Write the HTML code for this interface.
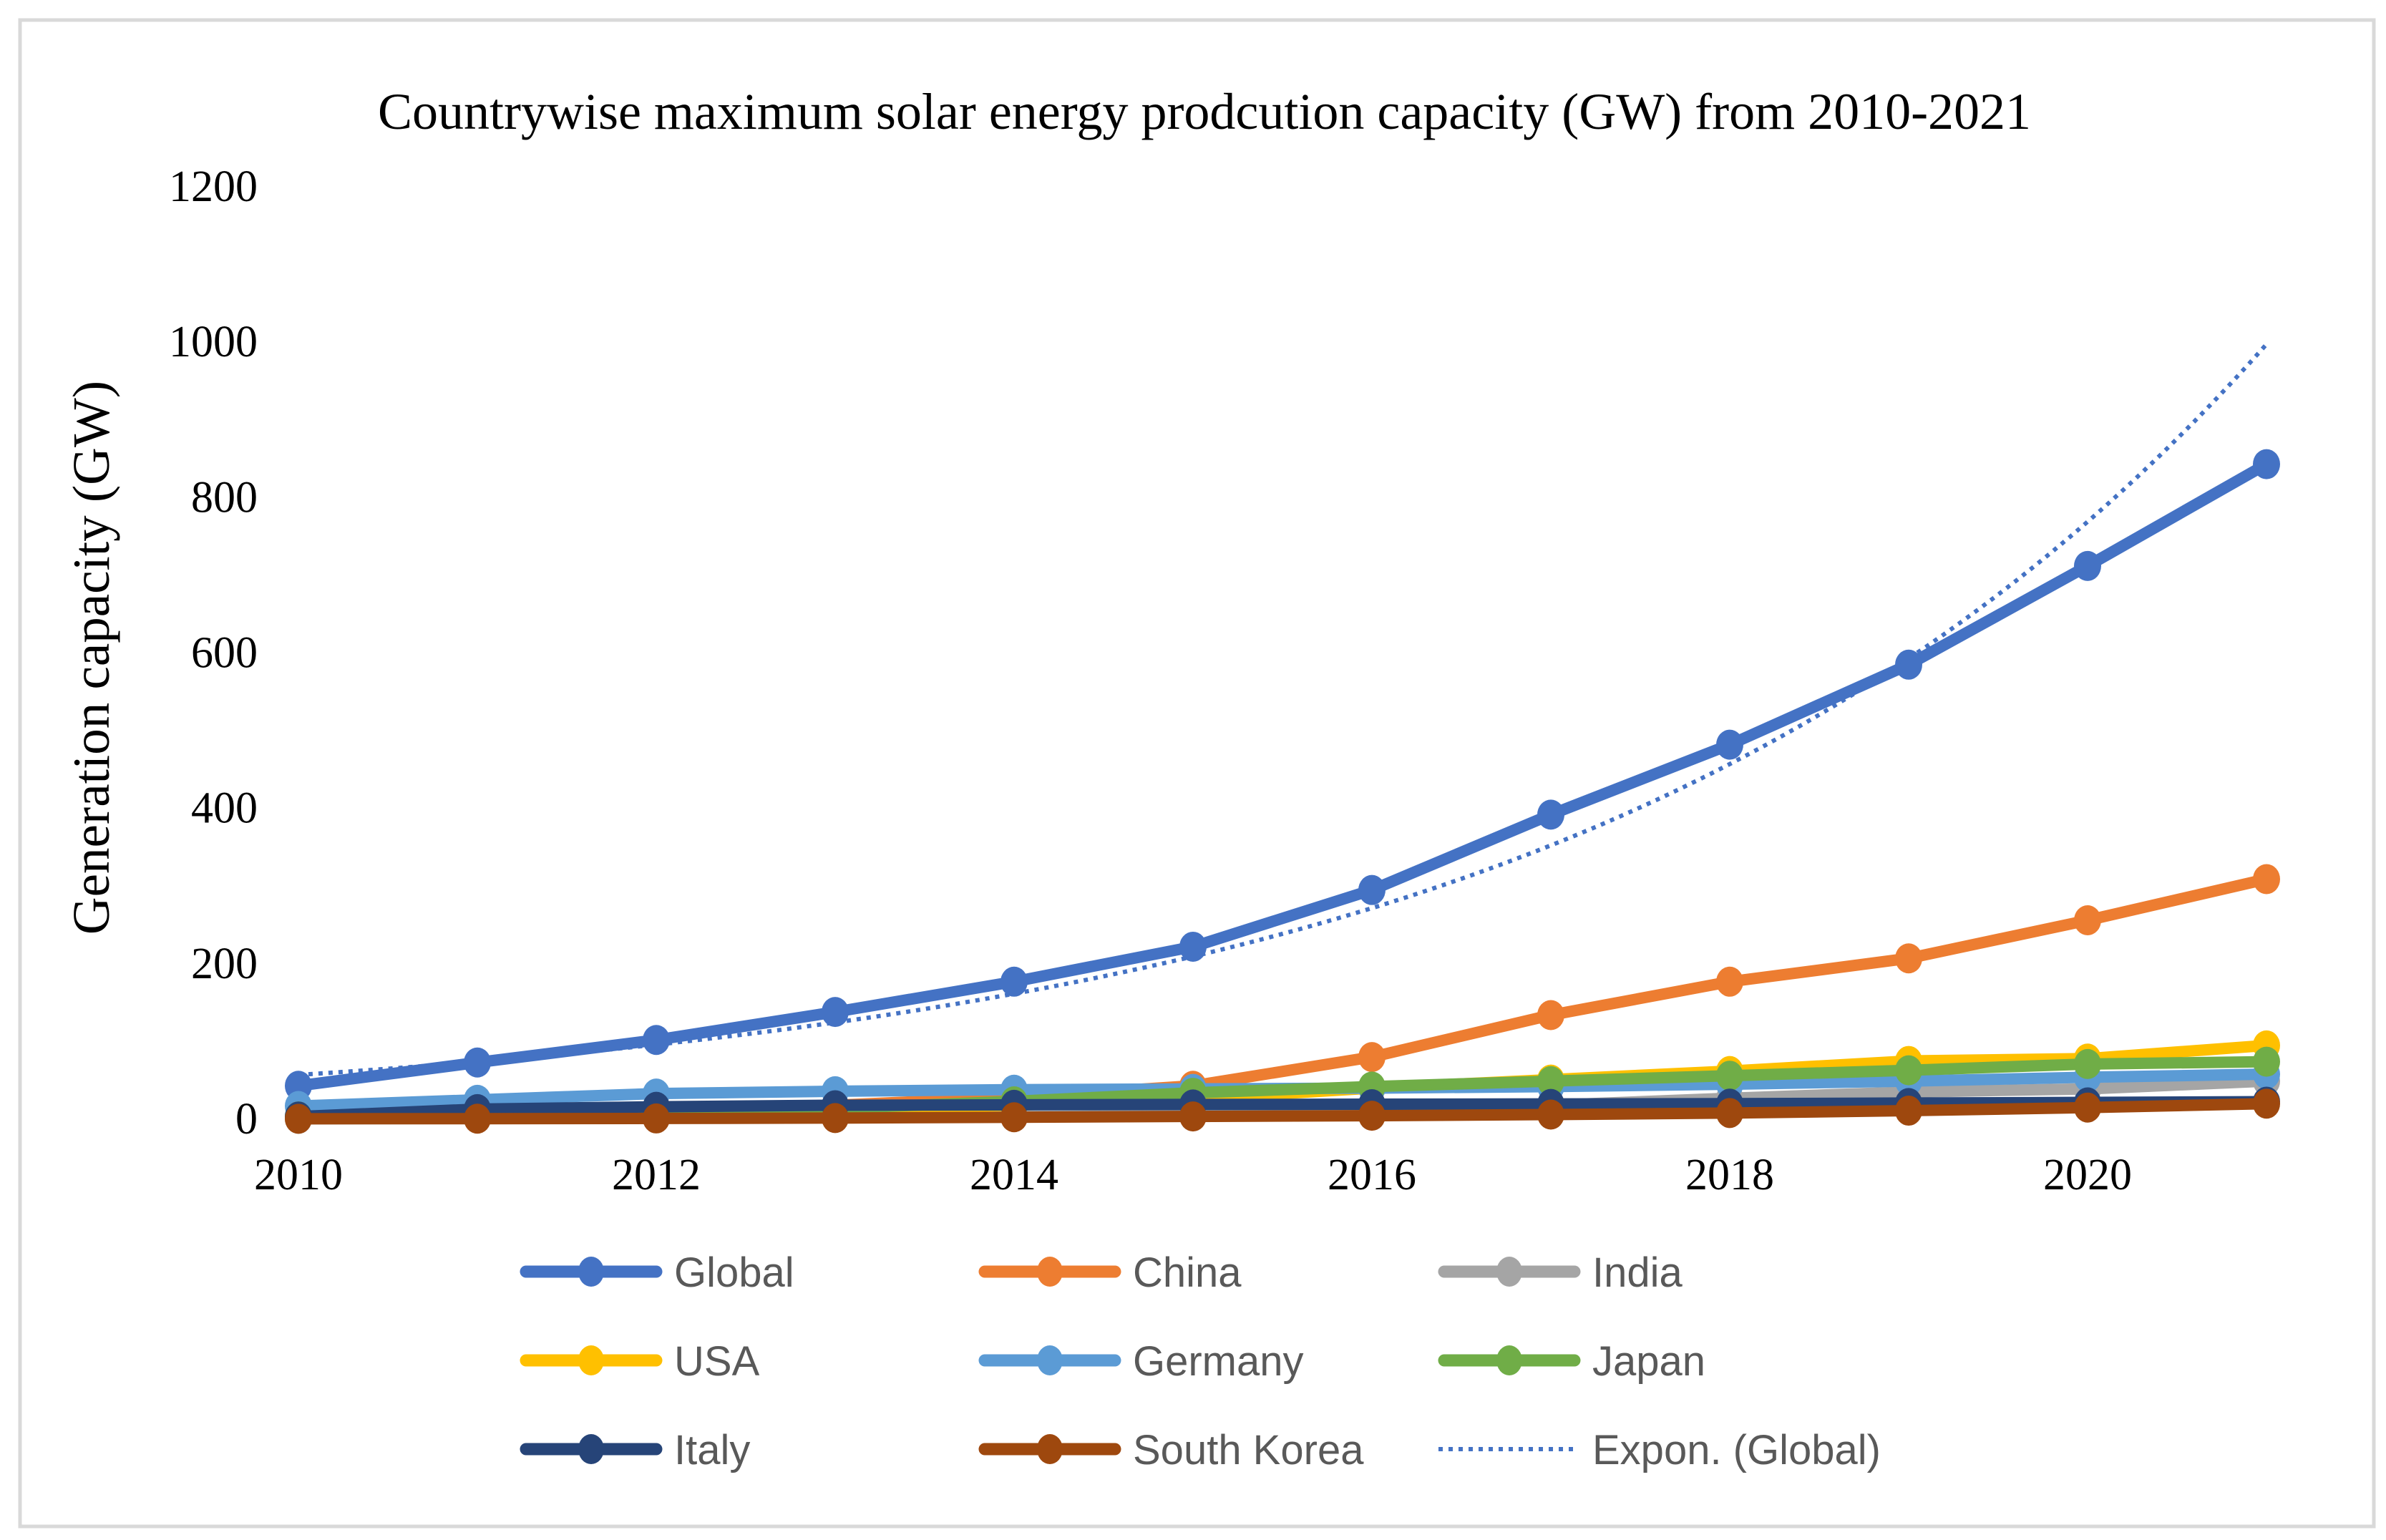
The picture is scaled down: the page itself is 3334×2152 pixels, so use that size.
<!DOCTYPE html>
<html><head><meta charset="utf-8">
<style>
html,body{margin:0;padding:0;background:#fff;}
svg{display:block;}
.serif{font-family:"Liberation Serif",serif;fill:#000;}
.leg{font-family:"Liberation Sans",sans-serif;fill:#595959;font-size:58px;}
</style></head>
<body>
<svg id="chart" width="3334" height="2152" viewBox="0 0 3334 2152" xmlns="http://www.w3.org/2000/svg">
<rect x="0" y="0" width="3334" height="2152" fill="#fff"/>
<rect x="28" y="28" width="3289" height="2105" fill="none" stroke="#d9d9d9" stroke-width="5"/>
<text class="serif" x="1683" y="180" font-size="72" text-anchor="middle">Countrywise maximum solar energy  prodcution capacity  (GW)  from 2010-2021</text>
<text class="serif" transform="translate(152,919) rotate(-90)" font-size="73" text-anchor="middle">Generation capacity (GW)</text>
<g id="yticks"></g>
<g id="xticks"></g>
<g id="series"></g>
<g id="legend"></g>
</svg>
<script>
const years = [2010,2011,2012,2013,2014,2015,2016,2017,2018,2019,2020,2021];
const yTickValues = [0,200,400,600,800,1000,1200];
const xTickYears = [2010,2012,2014,2016,2018,2020];
const globalVals = [43,73,102,138,177,222,295,392,482,585,712,843];
const chinaVals = [1,3,7,18,28,43,80,134,177,207,256,309];
const indiaVals = [0.5,1,1.5,2.5,3.5,5,9,18,27,35,39,49];
const usaVals = [2.5,4,7,12,18,26,40,51,62,75,78,95];
const germanyVals = [17,25,33,36,38,39,40,42,45,49,54,58];
const japanVals = [3.6,5,7,14,23,34,42,49,56,63,71,74];
const italyVals = [3.5,13,16,18,18.5,19,19.3,19.7,20,20.8,21.6,22.6];
const koreaVals = [0.6,0.7,1,1.5,2.5,3.6,4.5,6,8,11,15,20];
const seriesNames = ["Global","China","India","USA","Germany","Japan","Italy","South Korea"];

const NS = "http://www.w3.org/2000/svg";
const X0 = 417, XSTEP = 250, Y0 = 1564, YPX = (1564 - 261) / 1200;
function xScale(yr){ return X0 + (yr - 2010) * XSTEP; }
function yScale(v){ return Y0 - v * YPX; }
function mk(tag, attrs, parent){ const e = document.createElementNS(NS, tag); for (const k in attrs) e.setAttribute(k, attrs[k]); parent.appendChild(e); return e; }

const yt = document.getElementById('yticks');
yTickValues.forEach(v => {
  const t = mk('text', {x: 360, y: yScale(v) + 20, 'font-size': 62, 'text-anchor': 'end', class: 'serif'}, yt);
  t.textContent = v;
  
  
});
const xt = document.getElementById('xticks');
xTickYears.forEach(y => {
  const t = mk('text', {x: xScale(y), y: 1662, 'font-size': 62, 'text-anchor': 'middle', class: 'serif'}, xt);
  t.textContent = y;
  
  
});

const colors = ["#4472C4","#ED7D31","#A5A5A5","#FFC000","#5B9BD5","#70AD47","#264478","#9E480E"];
const allVals = [globalVals,chinaVals,indiaVals,usaVals,germanyVals,japanVals,italyVals,koreaVals];
const sg = document.getElementById('series');
allVals.forEach((vals, i) => {
  const g = mk('g', {}, sg);
  
  
  const pts = vals.map((v, j) => xScale(years[j]) + ',' + yScale(v)).join(' ');
  const pl = mk('polyline', {points: pts, fill: 'none', stroke: colors[i], 'stroke-width': 16, 'stroke-linejoin': 'round', 'stroke-linecap': 'round'}, g);
  
  
  vals.forEach((v, j) => {
    const c = mk('ellipse', {cx: xScale(years[j]), cy: yScale(v), rx: 19, ry: 21, fill: colors[i]}, g);
    
    
  });
});

// exponential trendline fit of Global
const n = years.length;
let sx = 0, sy = 0, sxx = 0, sxy = 0;
years.forEach((yr, j) => { const x = yr - 2010, l = Math.log(globalVals[j]); sx += x; sy += l; sxx += x * x; sxy += x * l; });
const b = (n * sxy - sx * sy) / (n * sxx - sx * sx);
const a = (sy - b * sx) / n;
const tp = [];
for (let k = 0; k <= 110; k++) { const x = k / 10; tp.push(xScale(2010 + x) + ',' + yScale(Math.exp(a + b * x))); }
const tr = mk('polyline', {points: tp.join(' '), fill: 'none', stroke: '#4472C4', 'stroke-width': 6, 'stroke-dasharray': '6 8'}, sg);



// legend
const lg = document.getElementById('legend');
const legNames = seriesNames.concat(["Expon. (Global)"]);
const colX = [727, 1368, 2010];
const rowY = [1777, 1901, 2025];
legNames.forEach((name, i) => {
  const cx = colX[i % 3], cy = rowY[Math.floor(i / 3)];
  const g = mk('g', {}, lg);
  
  
  if (i < 8) {
    mk('line', {x1: cx + 8, y1: cy, x2: cx + 190, y2: cy, stroke: colors[i], 'stroke-width': 17, 'stroke-linecap': 'round'}, g);
    mk('ellipse', {cx: cx + 99, cy: cy, rx: 18, ry: 21, fill: colors[i]}, g);
  } else {
    mk('line', {x1: cx, y1: cy, x2: cx + 190, y2: cy, stroke: '#4472C4', 'stroke-width': 6, 'stroke-dasharray': '6 8'}, g);
  }
  const t = mk('text', {x: cx + 215, y: cy + 21, class: 'leg'}, g);
  t.textContent = name;
});
</script>
</body></html>
